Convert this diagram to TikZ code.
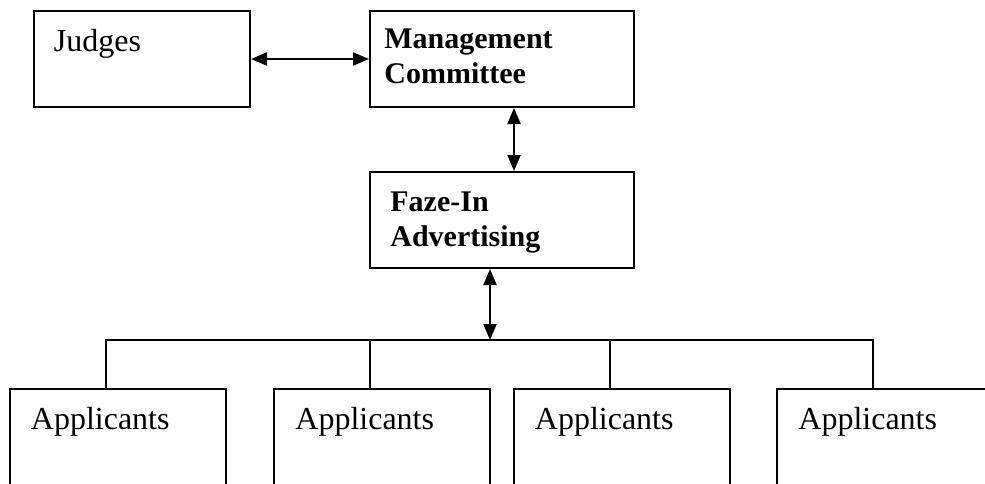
\documentclass[tikz,border=0pt]{standalone}
\usepackage{fontspec}
\setmainfont{Liberation Serif}
\usetikzlibrary{arrows.meta}
\tikzset{cell/.style={rectangle, draw, line width=1pt, minimum width=108pt, minimum height=48pt, inner sep=0pt}}
\tikzset{lbl/.style={anchor=base west, inner sep=0pt, align=left, label distance=0pt,
   xshift=10.5pt, yshift=-20.5pt, font=\fontsize{16}{17.5}\selectfont}}
\tikzset{blbl/.style={lbl, yshift=-17.5pt, font=\fontsize{15}{17.5}\selectfont\bfseries}}
\tikzset{link/.style={line width=1pt, {Triangle[length=8pt,width=6.5pt]}-{Triangle[length=8pt,width=6.5pt]}}}

\begin{document}
\begin{tikzpicture}[x=0.5pt, y=-0.5pt]

    \clip (0,0) rectangle (985,483);

    \node[cell, minimum width=108.25pt, label={[lbl]north west:Judges}] (judges) at (141.75,59) {};
    \node[cell, minimum width=132pt, label={[blbl, xshift=-3pt, yshift=1.5pt]north west:Management\\Committee}] (mgmt) at (502,59) {};
    \node[cell, minimum width=132pt, label={[blbl, yshift=0.5pt]north west:Faze-In\\Advertising}] (faze) at (502,220) {};

    \node[cell, label={[lbl, xshift=0.5pt]north west:Applicants}] (app1) at (117.5,437) {};
    \node[cell, label={[lbl, xshift=0.5pt]north west:Applicants}] (app2) at (382,437) {};
    \node[cell, label={[lbl, xshift=0.5pt]north west:Applicants}] (app3) at (621.5,437) {};
    \node[cell, label={[lbl, xshift=0.5pt]north west:Applicants}] (app4) at (885,437) {};

    \coordinate (bus) at (490,340);

    \draw[link] (judges.east) -- (judges.east -| mgmt.west);
    \draw[link] ([xshift=6pt]mgmt.south) -- ([xshift=6pt]faze.north);
    \draw[link] ([xshift=-6pt]faze.south) -- (bus);

    \draw[line width=1pt] ([xshift=-6pt]app1.north) |- (bus) -| ([xshift=-6pt]app4.north);
    \draw[line width=1pt] ([xshift=-6pt]app2.north) -- ([xshift=-6pt]app2.north |- bus);
    \draw[line width=1pt] ([xshift=-6pt]app3.north) -- ([xshift=-6pt]app3.north |- bus);

\end{tikzpicture}
\end{document}
